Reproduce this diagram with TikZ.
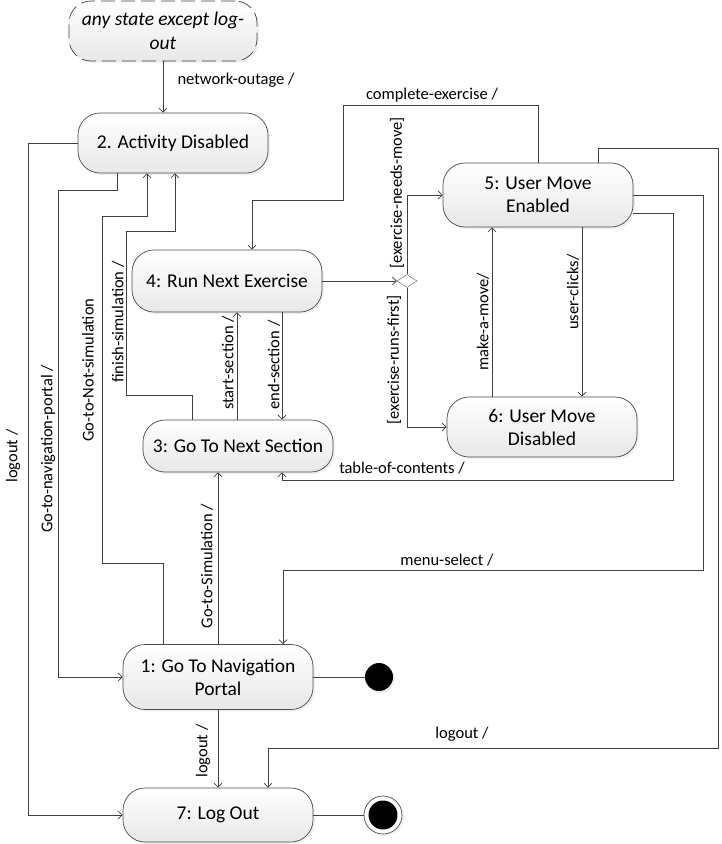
\documentclass[tikz,border=0pt]{standalone}
\usepackage{fontspec}
\setmainfont{Carlito}
\usetikzlibrary{arrows.meta,shapes.geometric,shadows}
\begin{document}
\begin{tikzpicture}[x=1pt,y=-1pt,
  state/.style={draw=black!70, line width=0.7pt, rounded corners=22pt,
    minimum width=190pt, minimum height=60pt, inner sep=2pt,
    top color=white, bottom color=black!9, align=center,
    drop shadow={opacity=0.12, shadow xshift=2pt, shadow yshift=-2pt},
    font=\fontsize{19.5}{23}\selectfont},
  trans/.style={draw=black!75, line width=0.7pt,
    -{Straight Barb[length=4pt,width=8pt]}},
  lbl/.style={font=\fontsize{16.5}{19}\selectfont, inner sep=1pt},
  vlbl/.style={lbl, rotate=90}]

\useasboundingbox (0,0) rectangle (721,844);

% states
\node[state, draw=black!75, dash pattern=on 14pt off 6pt, minimum width=188pt,
  font=\fontsize{19.5}{24}\itshape] (any) at (163,31) {any state except log-\\out};
\node[state] (s2) at (173,143) {2. Activity Disabled};
\node[state, minimum height=64pt] (s5) at (538,195) {5: User Move\\Enabled};
\node[state, minimum height=62pt] (s4) at (227,281) {4: Run Next Exercise};
\node[state, minimum height=52pt] (s3) at (238,446) {3: Go To Next Section};
\node[state] (s6) at (542,427) {6: User Move\\Disabled};
\node[state, minimum height=65pt] (s1) at (218,677) {1: Go To Navigation\\Portal};
\node[state, minimum height=54pt] (s7) at (218,815) {7: Log Out};

\node[diamond, draw=black!65, fill=white, minimum width=20pt, minimum height=13pt,
  inner sep=0pt] (dec) at (407,281) {};

\node[circle, fill=black, minimum size=28pt, inner sep=0pt,
  drop shadow={opacity=0.12, shadow xshift=2pt, shadow yshift=-2pt}] (end1) at (379,677) {};
\node[circle, draw=black!70, fill=white, line width=0.7pt, minimum size=38pt, inner sep=0pt,
  drop shadow={opacity=0.12, shadow xshift=2pt, shadow yshift=-2pt}] (end2) at (383,815) {};
\fill (end2.center) circle (14.5);

% transitions
\draw[trans] (any.south) -- (any.south |- s2.north);
\draw[trans] (s5.north) |- (343,105) |- (252,200) -- (252,0 |- s4.north);
\draw[trans] (s4.east) -- (dec.west);
\draw[trans] (dec.north) |- (s5.west);
\draw[trans] (dec.south) |- (s6.west);
\draw[trans] (582,0 |- s5.south) -- (582,0 |- s6.north);
\draw[trans] (492,0 |- s6.north) -- (492,0 |- s5.south);
\draw[trans] (282,0 |- s4.south) -- (282,0 |- s3.north);
\draw[trans] (237,0 |- s3.north) -- (237,0 |- s4.south);
\draw[trans] (192,0 |- s3.north) |- (126,395) |- (175,231) -- (175,0 |- s2.south);
\draw[trans] (163,0 |- s1.north) |- (102,563) |- (147,216) -- (147,0 |- s2.south);
\draw[trans] (117,0 |- s2.south) |- (58,190) |- (s1.west);
\draw[trans] (s2.west) -- (28,0 |- s2.west) |- (s7.west);
\draw[trans] (s1.north) -- (s1.north |- s3.south);
\draw[trans] (s5.east |- 0,213) -| (673,480) -| (282,0 |- s3.south);
\draw[trans] (s5.east) -| (703,570) -| (283,0 |- s1.north);
\draw[trans] (598,0 |- s5.north) |- (718,148) |- (268,748) -- (268,0 |- s7.north);
\draw[trans] (s1.south) -- (s1.south |- s7.north);
\draw[draw=black!75, line width=0.7pt] (s1.east) -- (end1.west);
\draw[draw=black!75, line width=0.7pt] (s7.east) -- (end2.west);

% labels
\node[lbl] (lnet) at (236,80) {network-outage /};
\node[lbl] (lcomp) at (432,95) {complete-exercise /};
\node[lbl] (ltoc) at (402,468) {table-of-contents /};
\node[lbl] (lmenu) at (447,560) {menu-select /};
\node[lbl] (lout3) at (462,734) {logout /};
\node[vlbl] (lneeds) at (397,193) {[exercise-needs-move]};
\node[vlbl] (lruns) at (394,360) {[exercise-runs-first]};
\node[vlbl] (lmake) at (483,322) {make-a-move/};
\node[vlbl] (lclick) at (573,292) {user-clicks/};
\node[vlbl] (lend) at (274,365) {end-section /};
\node[vlbl] (lstart) at (228,363) {start-section /};
\node[vlbl] (lfin) at (118,322) {finish-simulation /};
\node[vlbl] (lnot) at (88,370) {Go-to-Not-simulation};
\node[vlbl] (lnav) at (48,449) {Go-to-navigation-portal /};
\node[vlbl] (lout1) at (13,456) {logout /};
\node[vlbl] (lsim) at (207,566) {Go-to-Simulation /};
\node[vlbl] (lout2) at (203,751) {logout /};
\end{tikzpicture}
\end{document}
